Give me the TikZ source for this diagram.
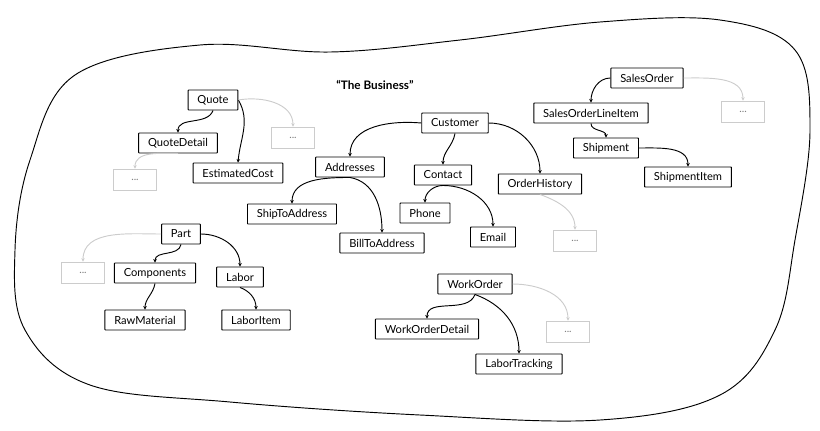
\documentclass[tikz,border=0pt]{standalone}
\usepackage{fontspec}
\setmainfont{Lato}
\usetikzlibrary{arrows.meta}
\begin{document}
\begin{tikzpicture}[x=0.3mm,y=-0.3mm,
        ent/.style={draw,thick,fill=white,font=\fontsize{9.5}{11}\selectfont,
                    inner xsep=8pt,inner ysep=3pt,
                    minimum height=6mm,rounded corners=0.5pt},
        more/.style={draw=black!20,thick,font=\small,text=black!50,
                     minimum width=13mm,minimum height=6.5mm},
        link/.style={thick,-{Stealth[length=3pt,width=3pt]}},
        faint/.style={thick,black!20,-{Stealth[length=3pt,width=3pt]}}]
  \useasboundingbox (0,0) rectangle (820,430);
  % the blob
  \draw[thick] plot[smooth cycle,tension=0.6] coordinates{
     (75,75) (200,45) (330,52) (460,40) (600,22) (720,20) (795,50)
     (810,130) (795,240) (775,330) (720,395) (600,420) (420,415)
     (230,402) (90,385) (25,330) (15,250) (30,160)};
  \node[font=\bfseries] (title) at (375,85) {``The Business''};

  % quote
  \node[ent] (quote) at (213,100) {Quote};
  \node[ent] (qdet) at (178,143) {QuoteDetail};
  \node[ent] (ecost) at (238,173) {EstimatedCost};
  \node[more] (m1) at (293,138) {...};
  \node[more] (m2) at (135,180) {...};
  \draw[link] (quote.south) to[out=-110,in=90] (qdet.north);
  \draw[link] (quote.east) to[out=-60,in=85] (ecost.north);
  \draw[faint] (quote.east) to[out=10,in=90] (m1.north);
  \draw[faint] (qdet.south) to[out=180,in=90] (m2.north);

  % customer
  \node[ent] (cust) at (455,123) {Customer};
  \node[ent] (addr) at (350,167) {Addresses};
  \node[ent] (cont) at (443,175) {Contact};
  \node[ent] (ordh) at (540,184) {OrderHistory};
  \node[ent] (ship2) at (292,214) {ShipToAddress};
  \node[ent] (bill2) at (382,243) {BillToAddress};
  \node[ent] (phone) at (425,213) {Phone};
  \node[ent] (email) at (493,237) {Email};
  \node[more] (m3) at (575,241) {...};
  \draw[link] (cust.west) to[out=175,in=90] (addr.north);
  \draw[link] (cust.south) to[out=-100,in=90] (cont.north);
  \draw[link] (cust.east) to[out=0,in=90] (ordh.north);
  \draw[link] (addr.south) to[out=180,in=90] (ship2.north);
  \draw[link] (addr.south) to[out=-10,in=90] (bill2.north);
  \draw[link] (cont.south) to[out=180,in=90] (phone.north);
  \draw[link] (cont.south) to[out=0,in=90] (email.north);
  \draw[faint] (ordh.south) to[out=-20,in=90] (m3.north);

  % sales order
  \node[ent] (sord) at (647,78) {SalesOrder};
  \node[ent] (soli) at (591,113) {SalesOrderLineItem};
  \node[ent] (shpm) at (606,148) {Shipment};
  \node[ent] (shpi) at (688,177) {ShipmentItem};
  \node[more] (m4) at (743,112) {...};
  \draw[link] (sord.west) to[out=180,in=90] (soli.north);
  \draw[link] (soli.south) to[out=-90,in=90] (shpm.north);
  \draw[link] (shpm.east) to[out=0,in=90] (shpi.north);
  \draw[faint] (sord.east) to[out=0,in=90] (m4.north);

  % part
  \node[ent] (part) at (181,234) {Part};
  \node[ent] (comp) at (155,273) {Components};
  \node[ent] (labor) at (240,277) {Labor};
  \node[ent] (rawm) at (145,320) {RawMaterial};
  \node[ent] (labi) at (256,320) {LaborItem};
  \node[more] (m5) at (83,273) {...};
  \draw[link] (part.south) to[out=-100,in=90] (comp.north);
  \draw[link] (part.east) to[out=0,in=90] (labor.north);
  \draw[link] (comp.south) to[out=-100,in=90] (rawm.north);
  \draw[link] (labor.south) to[out=-20,in=90] (labi.north);
  \draw[faint] (part.west) to[out=180,in=90] (m5.north);

  % work order
  \node[ent] (word) at (475,284) {WorkOrder};
  \node[ent] (wdet) at (427,329) {WorkOrderDetail};
  \node[ent] (ltrk) at (519,364) {LaborTracking};
  \node[more] (m6) at (568,332) {...};
  \draw[link] (word.south) to[out=-110,in=90] (wdet.north);
  \draw[link] (word.south) to[out=-20,in=90] (ltrk.north);
  \draw[faint] (word.east) to[out=0,in=90] (m6.north);
\end{tikzpicture}
\end{document}
